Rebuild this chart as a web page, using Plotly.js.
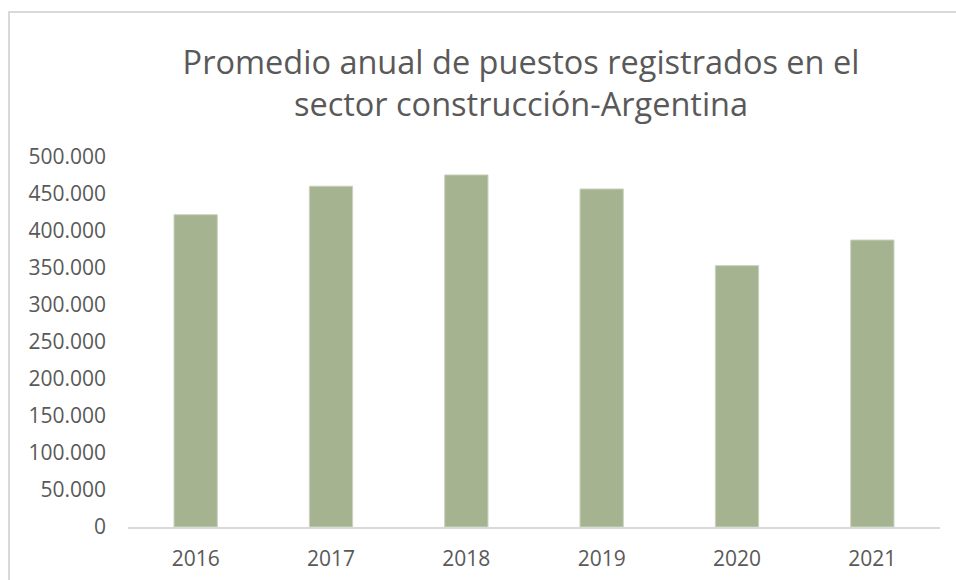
<!DOCTYPE html>
<html>
<head>
<meta charset="utf-8">
<script src="https://cdn.plot.ly/plotly-3.0.1.min.js"></script>
<style>
  html, body { margin: 0; padding: 0; background: #ffffff; overflow: hidden; }
  #wrap { position: relative; width: 956px; height: 580px; }
  #chart { width: 956px; height: 580px; }
  #frame { position: absolute; left: 8px; top: 11px; width: 1000px; height: 700px;
           border: 2px solid #d9d9d9; box-sizing: border-box; pointer-events: none; }
</style>
</head>
<body>
<div id="wrap">
  <div id="chart"></div>
  <div id="frame"></div>
</div>
<script>
const years = ['2016', '2017', '2018', '2019', '2020', '2021'];
const puestos = [422000, 460500, 475800, 456800, 353200, 387800];
const yTickVals = [0, 50000, 100000, 150000, 200000, 250000, 300000, 350000, 400000, 450000, 500000];
const yTickText = ['0', '50.000', '100.000', '150.000', '200.000', '250.000', '300.000', '350.000', '400.000', '450.000', '500.000'];

const trace = {
  type: 'bar',
  x: years,
  y: puestos,
  marker: { color: '#a5b390', line: { color: '#c9d3bd', width: 1 } },
  hoverinfo: 'x+y'
};

const layout = {
  width: 956,
  height: 580,
  margin: { l: 128, r: 16, t: 157, b: 53 },
  paper_bgcolor: '#ffffff',
  plot_bgcolor: '#ffffff',
  font: { family: '"Open Sans", sans-serif', color: '#595959' },
  title: {
    text: 'Promedio anual de puestos registrados en el<br>sector construcción-Argentina',
    font: { size: 32.5, color: '#595959', family: '"Open Sans", sans-serif' },
    xref: 'container', x: 0.545, xanchor: 'center',
    yref: 'container', y: 0.872, yanchor: 'top'
  },
  bargap: 0.68,
  showlegend: false,
  xaxis: {
    type: 'category',
    showgrid: false,
    zeroline: false,
    showline: true,
    linecolor: '#d9d9d9',
    linewidth: 2,
    ticks: '',
    ticklabelstandoff: 12,
    tickfont: { size: 21, color: '#595959' }
  },
  yaxis: {
    range: [0, 500000],
    tickvals: yTickVals,
    ticktext: yTickText,
    showgrid: false,
    zeroline: false,
    showline: false,
    ticks: '',
    ticklabelstandoff: 21,
    tickfont: { size: 21, color: '#595959' }
  }
};

Plotly.newPlot('chart', [trace], layout, { displayModeBar: false, staticPlot: true });
</script>
</body>
</html>
